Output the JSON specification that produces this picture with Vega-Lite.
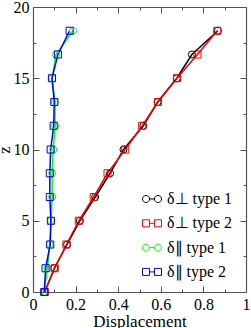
{
  "$schema": "https://vega.github.io/schema/vega-lite/v6.json",
  "width": 213,
  "height": 285,
  "autosize": {"type": "none"},
  "padding": {"left": 33, "top": 7, "right": 5, "bottom": 36},
  "config": {
    "font": "Liberation Serif",
    "view": {"stroke": null},
    "axis": {"grid": false, "labelFont": "Liberation Serif", "labelFontSize": 16, "titleFont": "Liberation Serif", "titleFontSize": 17, "titleFontWeight": "normal"},
    "style": {
      "guide-label": {"font": "Liberation Serif", "fontSize": 16, "fill": "#000000"},
      "guide-title": {"font": "Liberation Serif", "fontSize": 17, "fontWeight": "normal", "fill": "#000000"}
    }
  },
  "data": {
    "values": [
      {"s": "δ⊥ type 1", "z": 0, "d": 0.055},
      {"s": "δ⊥ type 1", "z": 1.667, "d": 0.1},
      {"s": "δ⊥ type 1", "z": 3.333, "d": 0.16},
      {"s": "δ⊥ type 1", "z": 5, "d": 0.22},
      {"s": "δ⊥ type 1", "z": 6.667, "d": 0.292},
      {"s": "δ⊥ type 1", "z": 8.333, "d": 0.362},
      {"s": "δ⊥ type 1", "z": 10, "d": 0.425},
      {"s": "δ⊥ type 1", "z": 11.667, "d": 0.518},
      {"s": "δ⊥ type 1", "z": 13.333, "d": 0.585},
      {"s": "δ⊥ type 1", "z": 15, "d": 0.675},
      {"s": "δ⊥ type 1", "z": 16.667, "d": 0.746},
      {"s": "δ⊥ type 1", "z": 18.333, "d": 0.868},
      {"s": "δ⊥ type 2", "z": 0, "d": 0.055},
      {"s": "δ⊥ type 2", "z": 1.667, "d": 0.102},
      {"s": "δ⊥ type 2", "z": 3.333, "d": 0.157},
      {"s": "δ⊥ type 2", "z": 5, "d": 0.215},
      {"s": "δ⊥ type 2", "z": 6.667, "d": 0.285},
      {"s": "δ⊥ type 2", "z": 8.333, "d": 0.35},
      {"s": "δ⊥ type 2", "z": 10, "d": 0.433},
      {"s": "δ⊥ type 2", "z": 11.667, "d": 0.513},
      {"s": "δ⊥ type 2", "z": 13.333, "d": 0.587},
      {"s": "δ⊥ type 2", "z": 15, "d": 0.676},
      {"s": "δ⊥ type 2", "z": 16.667, "d": 0.772},
      {"s": "δ⊥ type 2", "z": 18.333, "d": 0.865},
      {"s": "δ∥ type 1", "z": 0, "d": 0.052},
      {"s": "δ∥ type 1", "z": 1.667, "d": 0.068},
      {"s": "δ∥ type 1", "z": 3.333, "d": 0.078},
      {"s": "δ∥ type 1", "z": 5, "d": 0.085},
      {"s": "δ∥ type 1", "z": 6.667, "d": 0.09},
      {"s": "δ∥ type 1", "z": 8.333, "d": 0.09},
      {"s": "δ∥ type 1", "z": 10, "d": 0.095},
      {"s": "δ∥ type 1", "z": 11.667, "d": 0.104},
      {"s": "δ∥ type 1", "z": 13.333, "d": 0.103},
      {"s": "δ∥ type 1", "z": 15, "d": 0.09},
      {"s": "δ∥ type 1", "z": 16.667, "d": 0.108},
      {"s": "δ∥ type 1", "z": 18.333, "d": 0.188},
      {"s": "δ∥ type 2", "z": 0, "d": 0.053},
      {"s": "δ∥ type 2", "z": 1.667, "d": 0.059},
      {"s": "δ∥ type 2", "z": 3.333, "d": 0.081},
      {"s": "δ∥ type 2", "z": 5, "d": 0.084},
      {"s": "δ∥ type 2", "z": 6.667, "d": 0.079},
      {"s": "δ∥ type 2", "z": 8.333, "d": 0.079},
      {"s": "δ∥ type 2", "z": 10, "d": 0.083},
      {"s": "δ∥ type 2", "z": 11.667, "d": 0.097},
      {"s": "δ∥ type 2", "z": 13.333, "d": 0.1},
      {"s": "δ∥ type 2", "z": 15, "d": 0.089},
      {"s": "δ∥ type 2", "z": 16.667, "d": 0.117},
      {"s": "δ∥ type 2", "z": 18.333, "d": 0.172}
    ]
  },
  "layer": [
    {
      "mark": {"type": "line", "strokeWidth": 1.5},
      "encoding": {
        "x": {
          "field": "d", "type": "quantitative",
          "scale": {"domain": [0, 1], "nice": false, "zero": false},
          "axis": {"orient": "bottom", "values": [0, 0.2, 0.4, 0.6, 0.8, 1], "format": "~g", "tickSize": -6, "labelPadding": 10, "title": "Displacement", "titlePadding": 1,
            "grid": false, "domainColor": "#555555", "domainWidth": 1.2, "tickColor": "#555555", "tickWidth": 1,
            "labelFont": "Liberation Serif", "labelFontSize": 16, "labelColor": "#000000", "labelFlush": false, "labelOverlap": false,
            "titleFont": "Liberation Serif", "titleFontSize": 17, "titleFontWeight": "normal", "titleColor": "#000000"}
        },
        "y": {
          "field": "z", "type": "quantitative",
          "scale": {"domain": [0, 20], "nice": false, "zero": false},
          "axis": {"orient": "left", "values": [0, 5, 10, 15, 20], "format": "~g", "tickSize": -6, "labelPadding": 10, "title": "z", "titlePadding": 0,
            "grid": false, "domainColor": "#555555", "domainWidth": 1.2, "tickColor": "#555555", "tickWidth": 1,
            "labelFont": "Liberation Serif", "labelFontSize": 16, "labelColor": "#000000", "labelFlush": false, "labelOverlap": false,
            "titleFont": "Liberation Serif", "titleFontSize": 17, "titleFontWeight": "normal", "titleColor": "#000000"}
        },
        "color": {
          "field": "s", "type": "nominal",
          "scale": {"domain": ["δ⊥ type 1", "δ⊥ type 2", "δ∥ type 1", "δ∥ type 2"], "range": ["#000000", "#ff0000", "#00ff00", "#0000ff"]}
        },
        "order": {"field": "z", "type": "quantitative"}
      }
    },
    {
      "transform": [{"filter": "indexof(datum.s, 'type 1') >= 0"}],
      "mark": {"type": "circle", "filled": false, "size": 50, "strokeWidth": 1, "opacity": 1},
      "encoding": {
        "x": {"field": "d", "type": "quantitative", "axis": {"orient": "top", "values": [0, 0.2, 0.4, 0.6, 0.8, 1], "tickSize": -6, "labels": false, "title": null, "grid": false, "domainColor": "#555555", "domainWidth": 1.2, "tickColor": "#555555", "tickWidth": 1}},
        "y": {"field": "z", "type": "quantitative", "axis": {"orient": "right", "values": [0, 5, 10, 15, 20], "tickSize": -6, "labels": false, "title": null, "grid": false, "domainColor": "#555555", "domainWidth": 1.2, "tickColor": "#555555", "tickWidth": 1}},
        "color": {"field": "s", "type": "nominal"}
      }
    },
    {
      "transform": [{"filter": "indexof(datum.s, 'type 2') >= 0"}],
      "mark": {"type": "square", "filled": false, "size": 50, "strokeWidth": 1, "opacity": 1},
      "encoding": {
        "x": {"field": "d", "type": "quantitative", "axis": null},
        "y": {"field": "z", "type": "quantitative", "axis": null},
        "color": {"field": "s", "type": "nominal"}
      }
    },
    {
      "mark": {"type": "point", "opacity": 0, "filled": false},
      "encoding": {
        "x": {"field": "d", "type": "quantitative", "axis": {"orient": "bottom", "values": [0.1, 0.3, 0.5, 0.7, 0.9], "tickSize": -3, "labels": false, "domain": false, "title": null, "grid": false, "tickColor": "#555555", "tickWidth": 1}},
        "y": {"field": "z", "type": "quantitative", "axis": {"orient": "left", "values": [2.5, 7.5, 12.5, 17.5], "tickSize": -3, "labels": false, "domain": false, "title": null, "grid": false, "tickColor": "#555555", "tickWidth": 1}},
        "color": {
          "field": "s", "type": "nominal",
          "legend": {
            "orient": "none", "legendX": 109, "legendY": 182, "title": null,
            "labelFont": "Liberation Serif", "labelFontSize": 16, "labelColor": "#000000",
            "symbolSize": 361, "symbolStrokeWidth": 1, "symbolOpacity": 1, "symbolFillColor": "transparent", "rowPadding": 6.3, "labelOffset": 5
          }
        },
        "shape": {
          "field": "s", "type": "nominal",
          "scale": {
            "domain": ["δ⊥ type 1", "δ⊥ type 2", "δ∥ type 1", "δ∥ type 2"],
            "range": [
              "M-1,0A0.37,0.37,0,1,1,-0.26,0A0.37,0.37,0,1,1,-1,0M-0.26,0L0.26,0M0.26,0A0.37,0.37,0,1,1,1,0A0.37,0.37,0,1,1,0.26,0",
              "M-1,-0.37L-0.26,-0.37L-0.26,0.37L-1,0.37ZM-0.26,0L0.26,0M0.26,-0.37L1,-0.37L1,0.37L0.26,0.37Z",
              "M-1,0A0.37,0.37,0,1,1,-0.26,0A0.37,0.37,0,1,1,-1,0M-0.26,0L0.26,0M0.26,0A0.37,0.37,0,1,1,1,0A0.37,0.37,0,1,1,0.26,0",
              "M-1,-0.37L-0.26,-0.37L-0.26,0.37L-1,0.37ZM-0.26,0L0.26,0M0.26,-0.37L1,-0.37L1,0.37L0.26,0.37Z"
            ]
          },
          "legend": {
            "orient": "none", "legendX": 109, "legendY": 182, "title": null,
            "labelFont": "Liberation Serif", "labelFontSize": 16, "labelColor": "#000000",
            "symbolSize": 361, "symbolStrokeWidth": 1, "symbolOpacity": 1, "symbolFillColor": "transparent", "rowPadding": 6.3, "labelOffset": 5
          }
        }
      }
    },
    {
      "mark": {"type": "point", "opacity": 0},
      "encoding": {
        "x": {"field": "d", "type": "quantitative", "axis": {"orient": "top", "values": [0.1, 0.3, 0.5, 0.7, 0.9], "tickSize": -3, "labels": false, "domain": false, "title": null, "grid": false, "tickColor": "#555555", "tickWidth": 1}},
        "y": {"field": "z", "type": "quantitative", "axis": {"orient": "right", "values": [2.5, 7.5, 12.5, 17.5], "tickSize": -3, "labels": false, "domain": false, "title": null, "grid": false, "tickColor": "#555555", "tickWidth": 1}}
      }
    }
  ],
  "resolve": {"axis": {"x": "independent", "y": "independent"}}
}
